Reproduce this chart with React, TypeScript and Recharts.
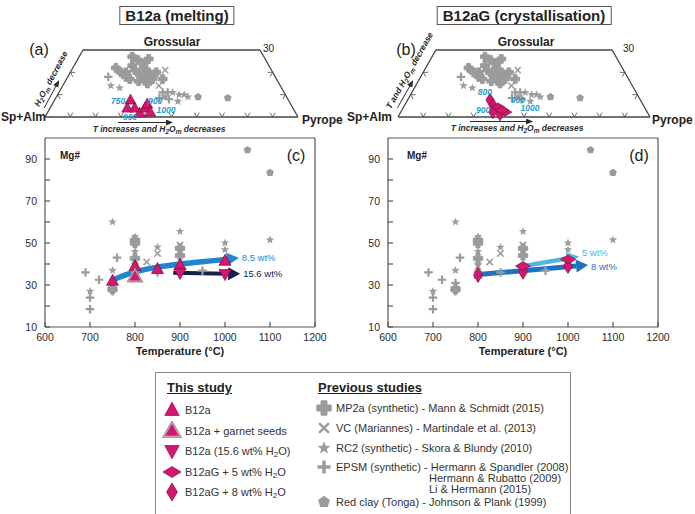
import React from 'react'
import { ComposedChart, ScatterChart, Scatter, Line, XAxis, YAxis, ReferenceLine } from 'recharts'

const FONT = '"Liberation Sans", Arial, Helvetica, sans-serif'
const INK = '#2b2b2b'
const AXIS = '#555555'
const GRAY = '#9b9b9b'
const MAGENTA = '#d6176f'
const MAGENTA_EDGE = '#7d0c40'
const TEMP_BLUE = '#1f9ad2'

// ---- Mg# vs temperature, pairs are [T (°C), Mg#]
const tempTicks = [600, 700, 800, 900, 1000, 1100, 1200]
const mgTicks = [10, 20, 30, 40, 50, 60, 70, 80, 90]
const mgTickLabels = [10, 30, 50, 70, 90]

// previous studies (same points in c and d)
const mp2aMg = [[800, 51.4], [800, 49.9], [800, 42.7], [900, 47.5], [900, 44], [750, 28]]
const vcMg = [[800, 38.7], [826, 41], [850, 45], [900, 49]]
const rc2Mg = [[700, 27], [750, 60], [750, 37], [800, 53], [800, 45.9], [800, 40], [850, 48], [900, 55.5], [900, 46], [1000, 50], [1000, 46.8], [1100, 51.5]]
const epsmMg = [[690, 36], [700, 24], [700, 18.5], [720, 32.5], [760, 43], [750, 31], [750, 29], [750, 27], [800, 33.5], [800, 36.3], [850, 36], [950, 36.8]]
const redClayMg = [[1050, 94.3], [1100, 83.5]]

// this study (c) melting
const b12aMg = [[750, 32], [800, 39], [850, 37.6], [900, 39.5], [1000, 41.5]]
const b12aSeedsMg = [[800, 34]]
const b12aWetMg = [[900, 35.7], [1000, 35.2]]
// this study (d) crystallisation
const b12aG5Mg = [[900, 39], [1000, 42.2]]
const b12aG8Mg = [[800, 34.8], [900, 36.3], [1000, 39]]

// trend arrows (last point = base of arrow head)
const trend85 = [[750, 32.4], [800, 36.2], [850, 38.5], [900, 40], [1000, 42.2], [1004, 42.3]]
const trend156 = [[885, 35.8], [1007, 35.4]]
const trend5 = [[900, 39], [998, 42.6]]
const trend8 = [[800, 35], [1018, 39]]

// ---- ternary, pairs are [grossular %, pyrope %]
const GROSS_MAX = 30
const mp2aTern = [[25.5, 24], [23, 23], [20, 22], [21, 25], [22, 28], [20, 31], [19, 28], [19, 33], [20, 34], [17, 25], [16, 29], [17, 31], [17, 34], [18, 23], [17, 38], [20, 20], [15, 33], [24, 27], [27, 21], [26, 28], [22, 17]]
const vcTern = [[21, 37], [14, 38]]
const rc2Tern = [[14, 19], [13, 23], [11, 45], [10, 48], [10, 50], [9, 52], [7, 49], [9, 43]]
const epsmTern = [[18, 16], [11, 41], [11, 43], [8, 45], [8.5, 41]]
const redClayTern = [[9, 56], [8.5, 68]]
const b12aTern = [[7.6, 30], [4, 30.5], [4, 33.5], [1.8, 36.5], [4, 37.5], [5.8, 37.5], [2.2, 40.5]]
const b12aG5Tern = [[4.5, 37.4], [2.2, 41.4], [3.1, 39.7]]
const b12aG8Tern = [[7.6, 32.7], [5.4, 35], [2.2, 36.5], [1.3, 39.8]]
const tempLabelsA = [{ g: 7.2, p: 25.3, text: '750' }, { g: 7.2, p: 39.9, text: '900' }, { g: 3.1, p: 46.3, text: '1000' }, { g: 0, p: 33.6, text: '900' }]
const tempLabelsB = [{ g: 11.2, p: 28.9, text: '800' }, { g: 7.6, p: 43.8, text: '900' }, { g: 4, p: 50.4, text: '1000' }, { g: 3.1, p: 32.2, text: '900' }]
const baseTickPyrope = [10, 20, 30, 40, 50, 60, 70, 80, 90]
const sideTickGross = [10, 20]

// ---- legend
const thisStudy = [
  { kind: 'up', label: 'B12a' },
  { kind: 'seed', label: 'B12a + garnet seeds' },
  { kind: 'down', label: 'B12a (15.6 wt% H2O)' },
  { kind: 'diaH', label: 'B12aG + 5 wt% H2O' },
  { kind: 'diaV', label: 'B12aG + 8 wt% H2O' },
]
const previousStudies = [
  { kind: 'mp2a', label: 'MP2a (synthetic) - Mann & Schmidt (2015)', more: [] as string[] },
  { kind: 'vc', label: 'VC (Mariannes) - Martindale et al. (2013)', more: [] },
  { kind: 'rc2', label: 'RC2 (synthetic) - Skora & Blundy (2010)', more: [] },
  { kind: 'epsm', label: 'EPSM (synthetic) - Hermann & Spandler (2008)', more: ['Hermann & Rubatto (2009)', 'Li & Hermann (2015)'] },
  { kind: 'clay', label: 'Red clay (Tonga) - Johnson & Plank (1999)', more: [] },
]

const toMg = (rows: number[][]) => rows.map(([t, mg]) => ({ t, mg }))
const toTern = (rows: number[][]) => rows.map(([g, p]) => ({ x: p + g / 2, y: g }))

function Marker({ kind, cx, cy, s = 1 }: { kind: string; cx: number; cy: number; s?: number }) {
  const poly = (pts: number[][]) => pts.map(([x, y]) => `${cx + x * s},${cy + y * s}`).join(' ')
  const ring = (n: number, r: (i: number) => number) =>
    Array.from({ length: n }, (_, i) => {
      const a = -Math.PI / 2 + (i * 2 * Math.PI) / n
      return [Math.cos(a) * r(i), Math.sin(a) * r(i)]
    })
  const plus = (a: number, w: number) => [[-w, -a], [w, -a], [w, -w], [a, -w], [a, w], [w, w], [w, a], [-w, a], [-w, w], [-a, w], [-a, -w], [-w, -w]]
  switch (kind) {
    case 'mp2a':
      return <polygon points={poly(plus(5.5, 2.3))} fill={GRAY} stroke={GRAY} strokeWidth={1} strokeLinejoin="round" />
    case 'epsm':
      return <polygon points={poly(plus(5, 1.3))} fill={GRAY} />
    case 'vc':
      return (
        <g stroke={GRAY} strokeWidth={1.8 * s}>
          <line x1={cx - 3.8 * s} y1={cy - 3.8 * s} x2={cx + 3.8 * s} y2={cy + 3.8 * s} />
          <line x1={cx - 3.8 * s} y1={cy + 3.8 * s} x2={cx + 3.8 * s} y2={cy - 3.8 * s} />
        </g>
      )
    case 'rc2':
      return <polygon points={poly(ring(10, (i) => (i % 2 ? 2.2 : 5.2)))} fill={GRAY} />
    case 'clay':
      return <polygon points={poly(ring(5, () => 4.8))} fill={GRAY} />
    case 'up':
      return <polygon points={poly([[0, -6.5], [6, 4.5], [-6, 4.5]])} fill={MAGENTA} stroke={MAGENTA_EDGE} strokeWidth={0.7} />
    case 'seed':
      return (
        <g>
          <polygon points={poly([[0, -8.5], [8, 5.5], [-8, 5.5]])} fill="#c7a0b2" stroke="#8a8a8a" strokeWidth={0.8} />
          <polygon points={poly([[0, -6], [5.5, 4], [-5.5, 4]])} fill={MAGENTA} />
        </g>
      )
    case 'down':
      return <polygon points={poly([[0, 6.5], [6, -4.5], [-6, -4.5]])} fill={MAGENTA} stroke={MAGENTA_EDGE} strokeWidth={0.7} />
    case 'diaH':
      return <polygon points={poly([[-7.5, 0], [0, -4.5], [7.5, 0], [0, 4.5]])} fill={MAGENTA} stroke={MAGENTA_EDGE} strokeWidth={0.7} />
    case 'diaV':
      return <polygon points={poly([[-4.5, 0], [0, -7.5], [4.5, 0], [0, 7.5]])} fill={MAGENTA} stroke={MAGENTA_EDGE} strokeWidth={0.7} />
    default:
      return <g />
  }
}

const markerShape = (kind: string, s = 1) => (p: any) => <Marker kind={kind} cx={p.cx} cy={p.cy} s={s} />

function arrowHead(rows: { t: number; mg: number }[], color: string, text: string, dy: number) {
  const last = rows[rows.length - 1]
  return (props: any) => {
    const { cx, cy, index, points, payload } = props
    if (payload !== last) return <g key={`d${index}`} />
    const prev = points && points[index - 1]
    const ang = prev ? Math.atan2(cy - prev.y, cx - prev.x) : 0
    const L = 12
    const W = 6.5
    const c = Math.cos(ang)
    const s = Math.sin(ang)
    const tip = [cx + L * c, cy + L * s]
    const b1 = [cx - W * s, cy + W * c]
    const b2 = [cx + W * s, cy - W * c]
    return (
      <g key={`d${index}`}>
        <polygon points={`${tip} ${b1} ${b2}`} fill={color} />
        <text x={tip[0] + 3} y={tip[1] + dy} fontSize={9.5} fill={color} dominantBaseline="central">
          {text}
        </text>
      </g>
    )
  }
}

function MgPanel({ left, margin, magenta, trends }: any) {
  const grays = [
    { data: epsmMg, kind: 'epsm' },
    { data: rc2Mg, kind: 'rc2' },
    { data: vcMg, kind: 'vc' },
    { data: mp2aMg, kind: 'mp2a' },
    { data: redClayMg, kind: 'clay' },
  ]
  const frame = { stroke: AXIS, strokeWidth: 1.2 }
  return (
    <div style={{ position: 'absolute', left, top: 128 }}>
      <ComposedChart width={350} height={240} margin={margin}>
        <XAxis
          type="number"
          dataKey="t"
          domain={[600, 1200]}
          ticks={tempTicks}
          tickSize={-5}
          tickMargin={12}
          height={30}
          axisLine={frame}
          tickLine={frame}
          tick={{ fontSize: 10.5, fill: INK }}
          label={{ value: 'Temperature (°C)', position: 'insideBottom', offset: 2, fontSize: 11, fontWeight: 'bold', fill: '#222' }}
        />
        <XAxis xAxisId="top" orientation="top" type="number" domain={[600, 1200]} ticks={tempTicks} tickSize={-5} tick={false} height={1} axisLine={frame} tickLine={frame} />
        <YAxis
          type="number"
          dataKey="mg"
          domain={[10, 100]}
          ticks={mgTicks}
          tickFormatter={(v: number) => (mgTickLabels.includes(v) ? String(v) : '')}
          tickSize={-5}
          tickMargin={13}
          width={30}
          axisLine={frame}
          tickLine={frame}
          tick={{ fontSize: 10.5, fill: INK }}
        />
        <YAxis yAxisId="right" orientation="right" type="number" domain={[10, 100]} ticks={mgTicks} tickSize={-5} tick={false} width={1} axisLine={frame} tickLine={frame} />
        {grays.map((g) => (
          <Scatter key={g.kind} data={toMg(g.data)} shape={markerShape(g.kind, 0.85)} isAnimationActive={false} />
        ))}
        {trends.map((tr: any) => {
          const rows = toMg(tr.data)
          return (
            <Line
              key={tr.text}
              data={rows}
              dataKey="mg"
              type={rows.length > 2 ? 'monotone' : 'linear'}
              stroke={tr.color}
              strokeWidth={tr.width}
              dot={arrowHead(rows, tr.color, tr.text, tr.dy)}
              activeDot={false}
              isAnimationActive={false}
            />
          )
        })}
        {magenta.map((m: any) => (
          <Scatter key={m.kind} data={toMg(m.data)} shape={markerShape(m.kind)} isAnimationActive={false} />
        ))}
      </ComposedChart>
    </div>
  )
}

function edgeTick(dirs: number[][]) {
  return (p: any) => (
    <g stroke={AXIS} strokeWidth={0.9}>
      {dirs.map(([dx, dy], i) => (
        <line key={i} x1={p.cx} y1={p.cy} x2={p.cx + dx * 5} y2={p.cy + dy * 5} />
      ))}
    </g>
  )
}

const tempLabel = (p: any) => (
  <text x={p.cx} y={p.cy} textAnchor="middle" dominantBaseline="central" fontSize={8.5} fontStyle="italic" fontWeight="bold" fill={TEMP_BLUE}>
    {p.payload.text}
  </text>
)

function TernaryPanel({ left, margin, magenta, labels }: any) {
  const edge = { stroke: '#444', strokeWidth: 1.3 }
  const half = GROSS_MAX / 2
  const baseTicks = baseTickPyrope.map((p) => ({ x: p, y: 0 }))
  const leftTicks = sideTickGross.map((g) => ({ x: g / 2, y: g }))
  const rightTicks = sideTickGross.map((g) => ({ x: 100 - g / 2, y: g }))
  const labelData = labels.map((l: any) => ({ x: l.p + l.g / 2, y: l.g, text: l.text }))
  return (
    <div style={{ position: 'absolute', left, top: 0 }}>
      <ScatterChart width={350} height={140} margin={margin}>
        <XAxis type="number" dataKey="x" domain={[0, 100]} hide />
        <YAxis type="number" dataKey="y" domain={[0, GROSS_MAX]} hide />
        <ReferenceLine segment={[{ x: 0, y: 0 }, { x: 100, y: 0 }]} {...edge} />
        <ReferenceLine segment={[{ x: 0, y: 0 }, { x: half, y: GROSS_MAX }]} {...edge} />
        <ReferenceLine segment={[{ x: half, y: GROSS_MAX }, { x: 100 - half, y: GROSS_MAX }]} {...edge} />
        <ReferenceLine segment={[{ x: 100 - half, y: GROSS_MAX }, { x: 100, y: 0 }]} {...edge} />
        <Scatter data={baseTicks} shape={edgeTick([[-0.5, -0.87], [0.5, -0.87]])} isAnimationActive={false} />
        <Scatter data={leftTicks} shape={edgeTick([[1, 0], [0.5, 0.87]])} isAnimationActive={false} />
        <Scatter data={rightTicks} shape={edgeTick([[-1, 0], [-0.5, 0.87]])} isAnimationActive={false} />
        <Scatter data={toTern(mp2aTern)} shape={markerShape('mp2a', 0.8)} isAnimationActive={false} />
        <Scatter data={toTern(vcTern)} shape={markerShape('vc', 0.8)} isAnimationActive={false} />
        <Scatter data={toTern(rc2Tern)} shape={markerShape('rc2', 0.85)} isAnimationActive={false} />
        <Scatter data={toTern(epsmTern)} shape={markerShape('epsm', 0.85)} isAnimationActive={false} />
        <Scatter data={toTern(redClayTern)} shape={markerShape('clay', 0.85)} isAnimationActive={false} />
        {magenta.map((m: any) => (
          <Scatter key={m.kind} data={toTern(m.data)} shape={markerShape(m.kind, 0.9)} isAnimationActive={false} />
        ))}
        <Scatter data={labelData} shape={tempLabel} isAnimationActive={false} />
      </ScatterChart>
    </div>
  )
}

// "pre H2Om post" with sub-scripts, as svg tspans
function H2Om({ pre, post }: { pre: string; post: string }) {
  return (
    <>
      {pre}H
      <tspan dy={2} fontSize={6.5}>2</tspan>
      <tspan dy={-2}>O</tspan>
      <tspan dy={2} fontSize={6.5}>m</tspan>
      <tspan dy={-2}>{post}</tspan>
    </>
  )
}

function SideNote({ bl, tl, tText, children }: any) {
  const dx = tl[0] - bl[0]
  const dy = tl[1] - bl[1]
  const len = Math.hypot(dx, dy)
  const nx = dy / len
  const ny = -dx / len
  const at = (t: number, off: number) => [bl[0] + dx * t + nx * off, bl[1] + dy * t + ny * off]
  const a = at(0.1, 5)
  const b = at(0.5, 5)
  const c = at(tText, 13)
  const ang = (Math.atan2(dy, dx) * 180) / Math.PI
  return (
    <g>
      <line x1={a[0]} y1={a[1]} x2={b[0]} y2={b[1]} stroke={INK} strokeWidth={1} markerEnd="url(#ah)" />
      <text transform={`translate(${c[0]},${c[1]}) rotate(${ang})`} textAnchor="middle" dominantBaseline="central" fontSize={8.5} fontStyle="italic" fontWeight="bold" fill={INK}>
        {children}
      </text>
    </g>
  )
}

function Annotations() {
  const bold12 = { fontSize: 12, fontWeight: 'bold' as const, fill: '#222', dominantBaseline: 'central' as const }
  const noteStyle = { fontSize: 8.5, fontStyle: 'italic' as const, fontWeight: 'bold' as const, fill: INK, textAnchor: 'middle' as const }
  return (
    <svg width={695} height={514} style={{ position: 'absolute', left: 0, top: 0, pointerEvents: 'none' }}>
      <defs>
        <marker id="ah" markerWidth="7" markerHeight="6" refX="6" refY="3" orient="auto">
          <path d="M0,0 L7,3 L0,6 z" fill={INK} />
        </marker>
      </defs>
      {/* (a) */}
      <text x={39} y={49} fontSize={16} textAnchor="middle" dominantBaseline="central" fill="#222">(a)</text>
      <text x={172} y={42} textAnchor="middle" {...bold12}>Grossular</text>
      <text x={263} y={48} fontSize={10} dominantBaseline="central" fill="#222">30</text>
      <text x={1} y={117} {...bold12}>Sp+Alm</text>
      <text x={302} y={120} {...bold12}>Pyrope</text>
      <line x1={118} y1={122.5} x2={172} y2={122.5} stroke={INK} strokeWidth={1} markerEnd="url(#ah)" />
      <text x={159} y={132} {...noteStyle}>
        <H2Om pre="T increases and " post=" decreases" />
      </text>
      <SideNote bl={[45, 117]} tl={[81, 50]} tText={0.48}>
        <H2Om pre="" post=" decrease" />
      </SideNote>
      {/* (b) */}
      <text x={406} y={49} fontSize={16} textAnchor="middle" dominantBaseline="central" fill="#222">(b)</text>
      <text x={526} y={42} textAnchor="middle" {...bold12}>Grossular</text>
      <text x={623} y={48} fontSize={10} dominantBaseline="central" fill="#222">30</text>
      <text x={347} y={117} {...bold12}>Sp+Alm</text>
      <text x={652} y={120} {...bold12}>Pyrope</text>
      <line x1={470} y1={121.5} x2={532} y2={121.5} stroke={INK} strokeWidth={1} markerEnd="url(#ah)" />
      <text x={517} y={131} {...noteStyle}>
        <H2Om pre="T increases and " post=" decreases" />
      </text>
      <SideNote bl={[398, 117]} tl={[436, 50]} tText={0.6}>
        <H2Om pre="T and " post=" decrease" />
      </SideNote>
      {/* (c) / (d) */}
      <text x={60} y={155} fontSize={10} fontWeight="bold" dominantBaseline="central" fill="#222">Mg#</text>
      <text x={296} y={155} fontSize={16} textAnchor="middle" dominantBaseline="central" fill="#222">(c)</text>
      <text x={407} y={155} fontSize={10} fontWeight="bold" dominantBaseline="central" fill="#222">Mg#</text>
      <text x={639} y={155} fontSize={16} textAnchor="middle" dominantBaseline="central" fill="#222">(d)</text>
    </svg>
  )
}

function TitleBox({ cx, text }: { cx: number; text: string }) {
  return (
    <div
      style={{
        position: 'absolute',
        left: cx,
        top: 6,
        transform: 'translateX(-50%)',
        border: '1px solid #555',
        padding: '0 5px',
        fontSize: 15,
        fontWeight: 'bold',
        lineHeight: '17px',
        whiteSpace: 'nowrap',
        color: '#222',
      }}
    >
      {text}
    </div>
  )
}

function chem(s: string) {
  const parts = s.split('H2O')
  return parts.map((p, i) => (
    <React.Fragment key={i}>
      {i > 0 && (
        <>
          H<sub style={{ fontSize: 8, verticalAlign: '-2px' }}>2</sub>O
        </>
      )}
      {p}
    </React.Fragment>
  ))
}

function LegendRow({ kind, x, y, labelX, s, children }: any) {
  return (
    <>
      <svg width={20} height={20} style={{ position: 'absolute', left: x - 10, top: y - 10 }}>
        <Marker kind={kind} cx={10} cy={10} s={s} />
      </svg>
      <div style={{ position: 'absolute', left: labelX, top: y - 7, fontSize: 11, lineHeight: '14px', whiteSpace: 'nowrap', color: '#333' }}>{children}</div>
    </>
  )
}

function LegendBox() {
  const thisY = [410, 431, 451, 472, 492]
  const prevY = [408, 428, 448, 467, 502]
  return (
    <>
      <div style={{ position: 'absolute', left: 155, top: 372, width: 414, height: 160, border: '1.5px solid #8a8a8a' }} />
      <div style={{ position: 'absolute', left: 167, top: 380, fontSize: 13, fontWeight: 'bold', textDecoration: 'underline', color: '#222' }}>This study</div>
      <div style={{ position: 'absolute', left: 318, top: 380, fontSize: 13, fontWeight: 'bold', textDecoration: 'underline', color: '#222' }}>Previous studies</div>
      {thisStudy.map((r, i) => (
        <LegendRow key={r.label} kind={r.kind} x={172} y={thisY[i]} labelX={185} s={1.2}>
          {chem(r.label)}
        </LegendRow>
      ))}
      {previousStudies.map((r, i) => (
        <React.Fragment key={r.label}>
          <LegendRow kind={r.kind} x={324} y={prevY[i]} labelX={336} s={1.3}>
            {r.label}
          </LegendRow>
          {r.more.map((m, j) => (
            <div key={m} style={{ position: 'absolute', left: 429, top: prevY[i] + 5 + j * 11, fontSize: 11, lineHeight: '12px', whiteSpace: 'nowrap', color: '#333' }}>
              {m}
            </div>
          ))}
        </React.Fragment>
      ))}
    </>
  )
}

export default function App() {
  return (
    <div style={{ position: 'absolute', left: 0, top: 0, width: 695, height: 514, overflow: 'hidden', background: '#fff', fontFamily: FONT, color: INK }}>
      <TitleBox cx={177} text="B12a (melting)" />
      <TitleBox cx={524} text="B12aG (crystallisation)" />
      <TernaryPanel
        left={0}
        margin={{ top: 50, bottom: 23, left: 45, right: 52 }}
        magenta={[{ data: b12aTern, kind: 'up' }]}
        labels={tempLabelsA}
      />
      <TernaryPanel
        left={345}
        margin={{ top: 50, bottom: 23, left: 53, right: 45 }}
        magenta={[
          { data: b12aG8Tern, kind: 'diaV' },
          { data: b12aG5Tern, kind: 'diaH' },
        ]}
        labels={tempLabelsB}
      />
      <MgPanel
        left={0}
        margin={{ top: 9, bottom: 11, left: 15, right: 34 }}
        trends={[
          { data: trend85, color: '#1f87cf', width: 5.5, text: '8.5 wt%', dy: 0 },
          { data: trend156, color: '#13214d', width: 4, text: '15.6 wt%', dy: 0 },
        ]}
        magenta={[
          { data: b12aMg, kind: 'up' },
          { data: b12aSeedsMg, kind: 'seed' },
          { data: b12aWetMg, kind: 'down' },
        ]}
      />
      <MgPanel
        left={345}
        margin={{ top: 9, bottom: 11, left: 13, right: 36 }}
        trends={[
          { data: trend8, color: '#1d72bf', width: 5, text: '8 wt%', dy: 1 },
          { data: trend5, color: '#52b4e4', width: 4.5, text: '5 wt%', dy: -4 },
        ]}
        magenta={[
          { data: b12aG8Mg, kind: 'diaV' },
          { data: b12aG5Mg, kind: 'diaH' },
        ]}
      />
      <LegendBox />
      <Annotations />
    </div>
  )
}
